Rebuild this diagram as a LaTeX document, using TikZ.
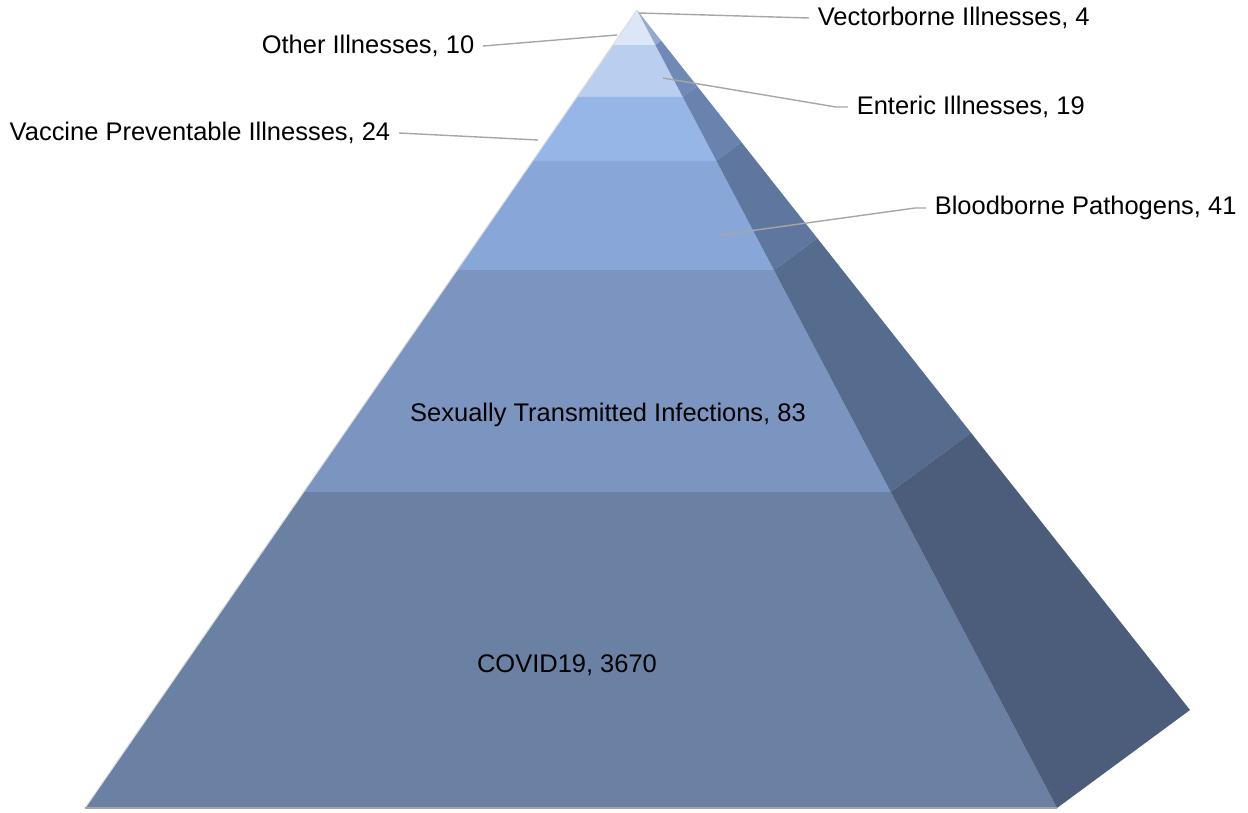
\documentclass[tikz,border=0pt]{standalone}
\usepackage{fontspec}
\setmainfont{Liberation Sans}
\usetikzlibrary{calc, positioning}
\definecolor{layA}{HTML}{DCE6F7}
\definecolor{layB}{HTML}{BACFF0}
\definecolor{layC}{HTML}{97B6E8}
\definecolor{layD}{HTML}{88A6D7}
\definecolor{layE}{HTML}{7B94C0}
\definecolor{layF}{HTML}{6A81A4}
\definecolor{sideA}{HTML}{95A9CC}
\definecolor{sideB}{HTML}{7189B6}
\definecolor{sideC}{HTML}{6A82AE}
\definecolor{sideD}{HTML}{5F779E}
\definecolor{sideE}{HTML}{566C8F}
\definecolor{sideF}{HTML}{4B5D7A}
\definecolor{leadgray}{HTML}{A6A6A6}
\tikzset{
  lbl/.style={font=\fontsize{14.5}{16}\selectfont, text=black,
              inner sep=0pt, outer sep=5pt},
  leader/.style={draw=leadgray, line width=0.8pt},
}

\begin{document}
\begin{tikzpicture}[x=0.02cm, y=-0.02cm]
  \useasboundingbox (0,0) rectangle (1248,812);
  \coordinate (apex) at (637,10);
  \coordinate (bl) at (85,808);
  \coordinate (br) at (1057,808);
  \coordinate (bk) at (1190,710);
  \foreach \ta/\tb/\fc/\sc in {0/0.0439/layA/sideA, 0.0439/0.109/layB/sideB,
      0.109/0.189/layC/sideC, 0.189/0.326/layD/sideD,
      0.326/0.604/layE/sideE, 0.604/1/layF/sideF} {
    \fill[\fc] ($(apex)!\ta!(bl)$) -- ($(apex)!\tb!(bl)$)
      -- ($(apex)!\tb!(br)$) -- ($(apex)!\ta!(br)$) -- cycle;
    \fill[\sc] ($(apex)!\ta!(br)$) -- ($(apex)!\tb!(br)$)
      -- ($(apex)!\tb!(bk)$) -- ($(apex)!\ta!(bk)$) -- cycle;
  }
  \draw[white!75!gray, line width=0.6pt] (bl) -- (apex);
  \draw[gray!70, line width=0.6pt] (bl) -- (br);

  \coordinate (tipvect) at (639,13);
  \coordinate (tipother) at (617,35);
  \coordinate (tipent) at (663,78);
  \coordinate (tipvacc) at (538,140);
  \coordinate (tipblood) at (720,235);

  \node[lbl, anchor=west] (vect) at (809,18) {Vectorborne Illnesses, 4};
  \node[lbl, anchor=east] (other) at (483,46) {Other Illnesses, 10};
  \node[lbl, anchor=west] (ent) at (848,107) {Enteric Illnesses, 19};
  \node[lbl, anchor=east] (vacc) at (399,133) {Vaccine Preventable Illnesses, 24};
  \node[lbl, anchor=west] (blood) at (926,208) {Bloodborne Pathogens, 41};
  \node[lbl] (sti) at (608,415) {Sexually Transmitted Infections, 83};
  \node[lbl] (covid) at (567,665) {COVID19, 3670};

  \draw[leader] (tipvect) -- (vect.west);
  \draw[leader] (tipother) -- (other.east);
  \draw[leader] (tipent) -- ($(ent.west)+(-12,0)$) -- (ent.west);
  \draw[leader] (tipvacc) -- (vacc.east);
  \draw[leader] (tipblood) -- ($(blood.west)+(-11,0)$) -- (blood.west);
\end{tikzpicture}
\end{document}
